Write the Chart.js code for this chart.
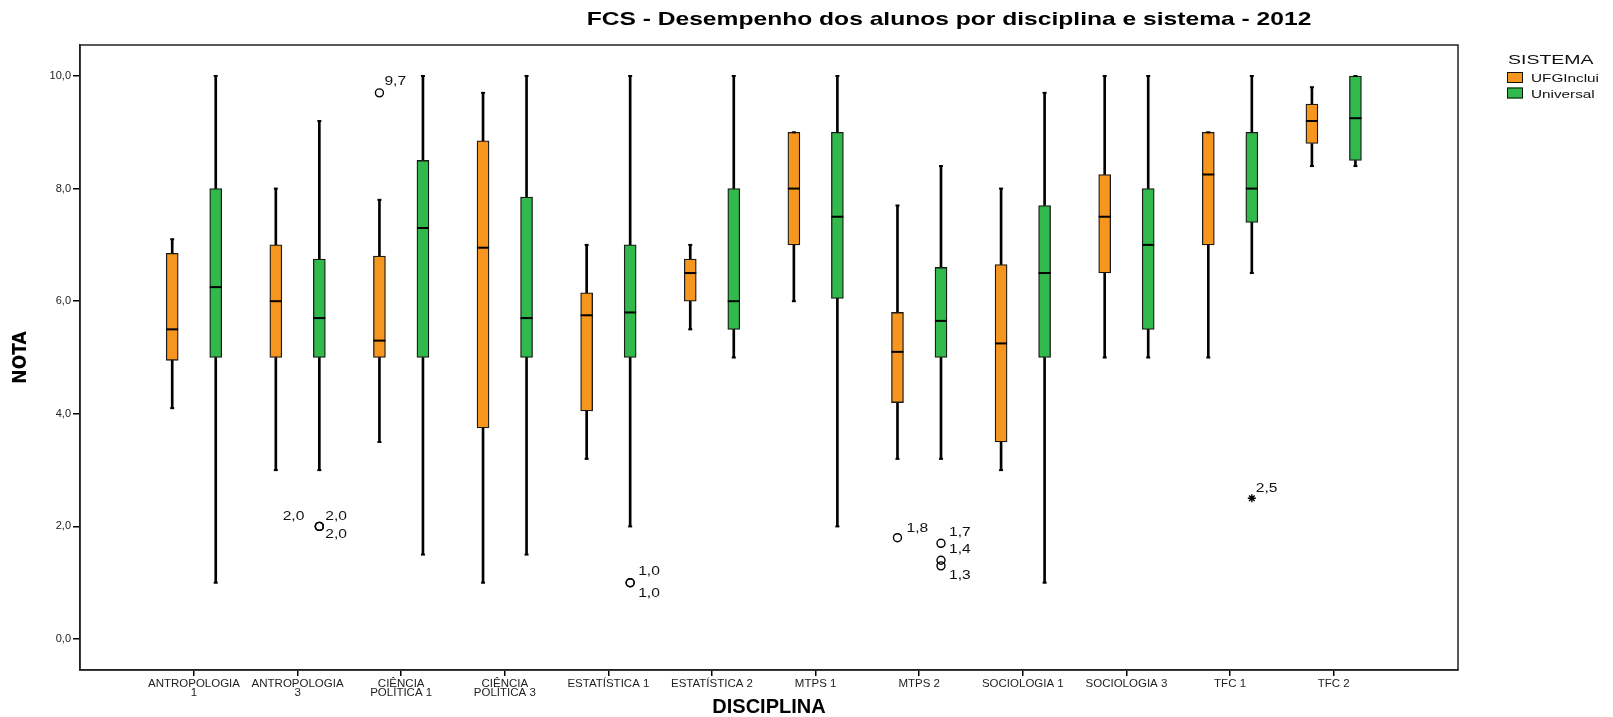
<!DOCTYPE html>
<html>
<head>
<meta charset="utf-8">
<script src="https://cdn.jsdelivr.net/npm/chart.js@4.4.1/dist/chart.umd.min.js"></script>
<style>
  html, body { margin: 0; padding: 0; background: #fff; }
  #wrap { width: 1613px; height: 717px; position: relative; }
</style>
</head>
<body>
<div id="wrap"><canvas id="boxChart"></canvas></div>
<script>
// disciplinas (eixo x)
const categories = ['ANTROPOLOGIA 1', 'ANTROPOLOGIA 3', 'CIÊNCIA POLÍTICA 1', 'CIÊNCIA POLÍTICA 3',
  'ESTATÍSTICA 1', 'ESTATÍSTICA 2', 'MTPS 1', 'MTPS 2', 'SOCIOLOGIA 1', 'SOCIOLOGIA 3', 'TFC 1', 'TFC 2'];
const tickLabels = [['ANTROPOLOGIA', '1'], ['ANTROPOLOGIA', '3'], ['CIÊNCIA', 'POLÍTICA 1'], ['CIÊNCIA', 'POLÍTICA 3'],
  'ESTATÍSTICA 1', 'ESTATÍSTICA 2', 'MTPS 1', 'MTPS 2', 'SOCIOLOGIA 1', 'SOCIOLOGIA 3', 'TFC 1', 'TFC 2'];
const yTicks = [0, 2, 4, 6, 8, 10];

// UFGInclui
const ufgMin = [4.1, 3.0, 3.5, 1.0, 3.2, 5.5, 6.0, 3.2, 3.0, 5.0, 5.0, 8.4];
const ufgQ1  = [4.95, 5.0, 5.0, 3.75, 4.05, 6.0, 7.0, 4.2, 3.5, 6.5, 7.0, 8.8];
const ufgMed = [5.5, 6.0, 5.3, 6.95, 5.75, 6.5, 8.0, 5.1, 5.25, 7.5, 8.25, 9.2];
const ufgQ3  = [6.85, 7.0, 6.8, 8.85, 6.15, 6.75, 9.0, 5.8, 6.65, 8.25, 9.0, 9.5];
const ufgMax = [7.1, 8.0, 7.8, 9.7, 7.0, 7.0, 9.0, 7.7, 8.0, 10.0, 9.0, 9.8];

// Universal
const uniMin = [1.0, 3.0, 1.5, 1.5, 2.0, 5.0, 2.0, 3.2, 1.0, 5.0, 6.5, 8.4];
const uniQ1  = [5.0, 5.0, 5.0, 5.0, 5.0, 5.5, 6.05, 5.0, 5.0, 5.5, 7.4, 8.5];
const uniMed = [6.25, 5.7, 7.3, 5.7, 5.8, 6.0, 7.5, 5.65, 6.5, 7.0, 8.0, 9.25];
const uniQ3  = [8.0, 6.75, 8.5, 7.85, 7.0, 8.0, 9.0, 6.6, 7.7, 8.0, 9.0, 10.0];
const uniMax = [10.0, 9.2, 10.0, 10.0, 10.0, 10.0, 10.0, 8.4, 9.7, 10.0, 10.0, 10.0];

// valores atípicos: disciplina, sistema (0 = UFGInclui, 1 = Universal), nota, rótulo, símbolo
const outCat    = [1, 1, 1, 2, 4, 4, 7, 7, 7, 7, 10];
const outSerie  = [1, 1, 1, 0, 1, 1, 0, 1, 1, 1, 1];
const outValue  = [2.0, 2.0, 2.0, 9.7, 1.0, 1.0, 1.8, 1.7, 1.4, 1.3, 2.5];
const outText   = ['2,0', '2,0', '2,0', '9,7', '1,0', '1,0', '1,8', '1,7', '1,4', '1,3', '2,5'];
const outExtreme = [false, false, false, false, false, false, false, false, false, false, true];

const seriesNames = ['UFGInclui', 'Universal'];
const seriesColors = ['#F7961E', '#31B94B'];
const seriesShift = [-0.21, 0.21];

function boxDatasets(s, lo, q1, med, q3, hi) {
  const dx = seriesShift[s];
  const whisk = [];
  const caps = [];
  categories.forEach((c, i) => {
    if (hi[i] > q3[i]) whisk.push({ x: i + dx, y: [q3[i], hi[i]] });
    if (lo[i] < q1[i]) whisk.push({ x: i + dx, y: [lo[i], q1[i]] });
    caps.push({ x: i + dx, y: hi[i] }, { x: i + dx, y: lo[i] });
  });
  return [
    {
      type: 'bar', label: seriesNames[s] + ' whisker', data: whisk, grouped: false,
      barThickness: 2, backgroundColor: '#000', borderWidth: 0, order: 4
    },
    {
      type: 'bar', label: seriesNames[s], data: categories.map((c, i) => ({ x: i + dx, y: [q1[i], q3[i]] })),
      grouped: false, barThickness: 12, backgroundColor: seriesColors[s],
      borderColor: '#1a1a1a', borderWidth: 1.3, borderSkipped: false, order: 3
    },
    {
      type: 'scatter', label: seriesNames[s] + ' mediana', data: categories.map((c, i) => ({ x: i + dx, y: med[i] })),
      pointStyle: 'line', pointRadius: 6, borderColor: '#000', borderWidth: 2, order: 2
    },
    {
      type: 'scatter', label: seriesNames[s] + ' limites', data: caps,
      pointStyle: 'line', pointRadius: 2, borderColor: '#000', borderWidth: 2, order: 2
    }
  ];
}

const outliers = {
  type: 'scatter', label: 'atípicos',
  data: outCat.map((c, k) => ({ x: c + seriesShift[outSerie[k]], y: outValue[k] })),
  pointStyle: outExtreme.map(e => e ? 'star' : 'circle'),
  pointRadius: outExtreme.map(e => e ? 4 : 4),
  backgroundColor: 'rgba(0,0,0,0)', borderColor: '#000', borderWidth: 1.4, order: 1
};

// deslocamento dos rótulos dos atípicos (px)
const outLabelPos = [
  { dx: -15, dy: -10, align: 'right' }, { dx: 6, dy: -10, align: 'left' }, { dx: 6, dy: 8, align: 'left' },
  { dx: 5, dy: -11, align: 'left' },
  { dx: 8, dy: -11, align: 'left' }, { dx: 8, dy: 11, align: 'left' },
  { dx: 9, dy: -9, align: 'left' },
  { dx: 8, dy: -11, align: 'left' }, { dx: 8, dy: -11, align: 'left' }, { dx: 8, dy: 10, align: 'left' },
  { dx: 4, dy: -10, align: 'left' }
];

const FONT = '"Liberation Sans", Arial, sans-serif';

function stretchedText(ctx, text, x, y, font, sx, align) {
  ctx.save();
  ctx.font = font;
  ctx.textAlign = align || 'left';
  ctx.textBaseline = 'alphabetic';
  ctx.translate(x, y);
  ctx.scale(sx, 1);
  ctx.fillText(text, 0, 0);
  ctx.restore();
}

const decorPlugin = {
  id: 'decor',
  afterDatasetsDraw(chart) {
    const { ctx, chartArea: a, scales: { x, y } } = chart;
    // moldura
    ctx.save();
    ctx.strokeStyle = '#222';
    ctx.lineWidth = 1.5;
    ctx.strokeRect(a.left, a.top, a.right - a.left, a.bottom - a.top);
    ctx.restore();

    // rótulos dos atípicos
    ctx.save();
    ctx.fillStyle = '#111';
    ctx.font = '12px ' + FONT;
    ctx.textBaseline = 'middle';
    outText.forEach((t, k) => {
      const px = x.getPixelForValue(outCat[k] + seriesShift[outSerie[k]]);
      const py = y.getPixelForValue(outValue[k]);
      const p = outLabelPos[k];
      ctx.save();
      ctx.translate(px + p.dx, py + p.dy);
      ctx.scale(1.3, 1);
      ctx.textAlign = p.align;
      ctx.fillText(t, 0, 0);
      ctx.restore();
    });
    ctx.restore();

    // título
    ctx.fillStyle = '#000';
    stretchedText(ctx, 'FCS - Desempenho dos alunos por disciplina e sistema - 2012', 949, 25,
      'bold 18.5px ' + FONT, 1.33, 'center');

    // legenda
    ctx.fillStyle = '#111';
    stretchedText(ctx, 'SISTEMA', 1508, 64, '13px ' + FONT, 1.5, 'left');
    seriesNames.forEach((n, s) => {
      const top = 72 + s * 15.5;
      ctx.save();
      ctx.fillStyle = seriesColors[s];
      ctx.fillRect(1507, top, 16, 11);
      ctx.strokeStyle = '#111';
      ctx.lineWidth = 1;
      ctx.strokeRect(1507.5, top + 0.5, 15, 10);
      ctx.restore();
      ctx.fillStyle = '#111';
      stretchedText(ctx, n, 1531, top + 10, '11.5px ' + FONT, 1.33, 'left');
    });
  }
};

new Chart(document.getElementById('boxChart'), {
  type: 'scatter',
  data: {
    datasets: [
      outliers,
      ...boxDatasets(0, ufgMin, ufgQ1, ufgMed, ufgQ3, ufgMax),
      ...boxDatasets(1, uniMin, uniQ1, uniMed, uniQ3, uniMax)
    ]
  },
  options: {
    responsive: true,
    maintainAspectRatio: false,
    animation: false,
    events: [],
    layout: { padding: { left: 4, right: 155, top: 45, bottom: 0 } },
    plugins: {
      legend: { display: false },
      tooltip: { enabled: false }
    },
    scales: {
      x: {
        type: 'linear',
        min: -1.1,
        max: 12.2,
        offset: false,
        afterBuildTicks: scale => { scale.ticks = categories.map((c, i) => ({ value: i })); },
        afterFit: scale => { scale.height = 47; },
        grid: { offset: false, drawOnChartArea: false, drawTicks: true, tickLength: 6, color: '#000', lineWidth: 1.5 },
        border: { display: true, color: '#222', width: 1.5 },
        ticks: {
          autoSkip: false, maxRotation: 0, minRotation: 0, padding: 3, color: '#222',
          font: { family: FONT, size: 11.5, lineHeight: 0.8 },
          callback: (v, i) => tickLabels[i]
        },
        title: {
          display: true, text: 'DISCIPLINA', color: '#000',
          font: { family: FONT, size: 20, weight: 'bold', lineHeight: 1 },
          padding: { top: 0, bottom: 0 }
        }
      },
      y: {
        min: -0.55,
        max: 10.55,
        afterBuildTicks: scale => { scale.ticks = yTicks.map(v => ({ value: v })); },
        afterFit: scale => { scale.width = 76; },
        grid: { drawOnChartArea: false, drawTicks: true, tickLength: 7, color: '#000', lineWidth: 1.5 },
        border: { display: true, color: '#222', width: 1.5 },
        ticks: {
          padding: 2, color: '#222',
          font: { family: FONT, size: 11 },
          callback: v => v.toFixed(1).replace('.', ',')
        },
        title: {
          display: true, text: 'NOTA', color: '#000',
          font: { family: '"Liberation Sans Narrow", "DejaVu Sans Condensed", ' + FONT, size: 19, weight: 'bold', lineHeight: 1.2 },
          padding: { top: 6, bottom: 0 }
        }
      }
    }
  },
  plugins: [decorPlugin]
});
</script>
</body>
</html>
